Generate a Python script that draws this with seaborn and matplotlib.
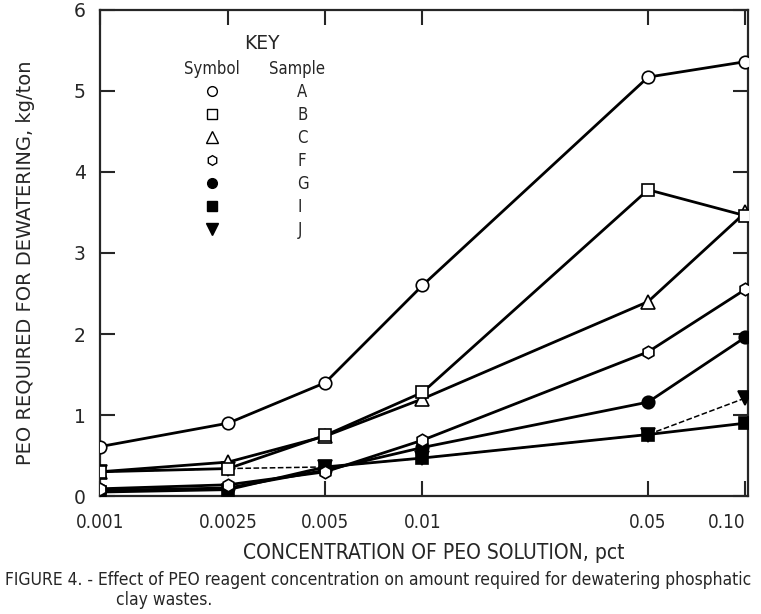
import matplotlib
matplotlib.use("Agg")
import pandas as pd
import matplotlib.pyplot as plt
import seaborn as sns
from matplotlib.lines import Line2D

# concentration of PEO solution, pct
conc = [0.001, 0.0025, 0.005, 0.01, 0.05, 0.10]
conc_labels = ["0.001", "0.0025", "0.005", "0.01", "0.05", "0.10"]

# PEO required for dewatering, kg/ton
sample_a = [0.61, 0.90, 1.40, 2.60, 5.17, 5.36]
sample_b = [0.30, 0.34, 0.75, 1.28, 3.78, 3.46]
sample_c = [0.30, 0.42, 0.74, 1.20, 2.40, 3.50]
sample_f = [0.09, 0.14, 0.30, 0.69, 1.78, 2.55]
sample_g = [0.07, 0.10, 0.32, 0.60, 1.16, 1.96]
sample_i = [0.05, 0.08, 0.36, 0.47, 0.76, 0.90]
sample_j = [0.30, 0.34, 0.36, 0.47, 0.76, 1.21]

samples = ["A", "B", "C", "F", "G", "I", "J"]
values = [sample_a, sample_b, sample_c, sample_f, sample_g, sample_i, sample_j]
markers = ["o", "s", "^", "h", "o", "s", "v"]
filled = [False, False, False, False, True, True, True]
y_ticks = [0, 1, 2, 3, 4, 5, 6]


def main():
    sns.set_style("ticks")
    plt.rcParams["font.family"] = ["DejaVu Sans"]
    plt.rcParams["font.stretch"] = "condensed"

    fig = plt.figure(figsize=(7.61, 6.14), dpi=100)
    ax = fig.add_axes([0.131, 0.192, 0.852, 0.792])

    handles = []
    # draw in reverse so the upper samples' markers sit on top
    for name, vals, mk, fill in reversed(list(zip(samples, values, markers, filled))):
        df = pd.DataFrame({"conc": conc, "peo": vals})
        ls = "--" if name == "J" else "-"
        lw = 1.1 if name == "J" else 2.0
        fc = "black" if fill else "white"
        ms = 10 if mk in ("v", "^") else 9
        sns.lineplot(data=df, x="conc", y="peo", ax=ax, color="black",
                     linestyle=ls, linewidth=lw, marker=mk, markersize=ms,
                     markerfacecolor=fc, markeredgecolor="black",
                     markeredgewidth=1.2, zorder=3, legend=False)
        handles.insert(0, Line2D([], [], linestyle="none", marker=mk, markersize=ms - 2,
                                 markerfacecolor=fc, markeredgecolor="black",
                                 markeredgewidth=1.0))

    ax.set_xscale("log")
    ax.set_xlim(0.001, 0.102)
    ax.set_ylim(0, 6)
    ax.set_xticks(conc)
    ax.set_xticklabels(conc_labels)
    ax.get_xticklabels()[-1].set_ha("right")
    ax.minorticks_off()
    ax.set_yticks(y_ticks)
    ax.tick_params(axis="both", direction="in", length=11, width=1.5,
                   top=True, right=True, labelsize=13.5)
    ax.tick_params(axis="x", pad=12)
    ax.tick_params(axis="y", pad=10)
    for lab in ax.get_yticklabels():
        lab.set_fontstretch("normal")
    for sp in ax.spines.values():
        sp.set_linewidth(1.6)

    ax.set_xlabel("CONCENTRATION OF PEO SOLUTION, pct", fontsize=15)
    ax.xaxis.set_label_coords(0.515, -0.097)
    ax.set_ylabel("PEO REQUIRED FOR DEWATERING, kg/ton", fontsize=14, fontstretch="normal")
    ax.yaxis.set_label_coords(-0.1, 0.48)

    # key
    ax.text(0.25, 0.93, "KEY", transform=ax.transAxes, ha="center", va="center",
            fontsize=13.5, fontstretch="normal")
    ax.text(0.173, 0.878, "Symbol", transform=ax.transAxes, ha="center", va="center", fontsize=12)
    ax.text(0.305, 0.878, "Sample", transform=ax.transAxes, ha="center", va="center", fontsize=12)
    ax.legend(handles, samples, loc="upper left", bbox_to_anchor=(0.148, 0.866),
              frameon=False, fontsize=12, handlelength=1.0, handletextpad=4.6,
              labelspacing=0.3, borderpad=0)

    fig.text(0.006, 0.055,
             "FIGURE 4. - Effect of PEO reagent concentration on amount required for dewatering phosphatic",
             fontsize=12.5, ha="left", va="center")
    fig.text(0.153, 0.022, "clay wastes.", fontsize=12.5, ha="left", va="center")

    fig.savefig("out.png", dpi=100)
    plt.close(fig)


if __name__ == "__main__":
    main()
